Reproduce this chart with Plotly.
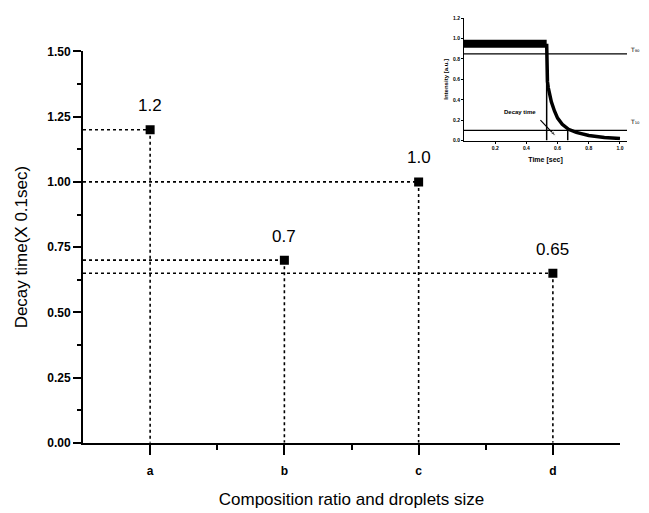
import plotly.graph_objects as go

# ---- main chart data ----
categories = ["a", "b", "c", "d"]
decay_times = [1.2, 0.7, 1.0, 0.65]
value_labels = ["1.2", "0.7", "1.0", "0.65"]
y_ticks = [0.0, 0.25, 0.5, 0.75, 1.0, 1.25, 1.5]

# ---- inset data ----
plateau_t = [0.0, 0.53]
plateau_i = [0.95, 0.95]
decay_t = [0.53, 0.53, 0.535, 0.54, 0.55, 0.56, 0.58, 0.60, 0.63, 0.67, 0.72, 0.80, 0.90, 1.0]
decay_i = [0.95, 0.62, 0.58, 0.52, 0.45, 0.38, 0.29, 0.22, 0.16, 0.11, 0.08, 0.05, 0.03, 0.02]
t90_level = 0.85
t10_level = 0.10
t_start = 0.53
t_end = 0.665
arrow_t = [0.49, 0.59]
arrow_i = [0.20, 0.04]
inset_x_ticks = [0.2, 0.4, 0.6, 0.8, 1.0]
inset_y_ticks = [0.0, 0.2, 0.4, 0.6, 0.8, 1.0, 1.2]

FONT = "Liberation Sans, Arial, sans-serif"
xpos = list(range(len(categories)))
x_left = -0.5

fig = go.Figure()

# dotted guide lines
for xi, v in zip(xpos, decay_times):
    fig.add_trace(go.Scatter(x=[x_left, xi], y=[v, v], mode="lines",
                             line=dict(color="black", width=1.6, dash="dot"),
                             hoverinfo="skip", showlegend=False))
    fig.add_trace(go.Scatter(x=[xi, xi], y=[v, 0], mode="lines",
                             line=dict(color="black", width=1.6, dash="dot"),
                             hoverinfo="skip", showlegend=False))

fig.add_trace(go.Scatter(x=xpos, y=decay_times, mode="markers",
                         marker=dict(symbol="square", size=9, color="black"),
                         showlegend=False))

for xi, v, t in zip(xpos, decay_times, value_labels):
    fig.add_annotation(x=xi, y=v, text=t, showarrow=False, yshift=24,
                       font=dict(family=FONT, size=17, color="black"))

# ---- inset ----
fig.add_trace(go.Scatter(x=plateau_t, y=plateau_i, mode="lines", xaxis="x2", yaxis="y2",
                         line=dict(color="black", width=8), showlegend=False))
fig.add_trace(go.Scatter(x=decay_t, y=decay_i, mode="lines", xaxis="x2", yaxis="y2",
                         line=dict(color="black", width=3.5), showlegend=False))
for lvl in [t90_level, t10_level]:
    fig.add_trace(go.Scatter(x=[0, 1.045], y=[lvl, lvl], mode="lines", xaxis="x2", yaxis="y2",
                             line=dict(color="black", width=1.2), showlegend=False))
fig.add_trace(go.Scatter(x=[t_start, t_start], y=[0, t90_level], mode="lines", xaxis="x2", yaxis="y2",
                         line=dict(color="black", width=1.5), showlegend=False))
fig.add_trace(go.Scatter(x=[t_end, t_end], y=[0, t10_level], mode="lines", xaxis="x2", yaxis="y2",
                         line=dict(color="black", width=1.5), showlegend=False))
fig.add_trace(go.Scatter(x=arrow_t, y=arrow_i, mode="lines+markers", xaxis="x2", yaxis="y2",
                         line=dict(color="black", width=1.2),
                         marker=dict(symbol="arrow", size=[0, 6], angleref="previous", color="black"),
                         showlegend=False))

fig.add_annotation(xref="x2 domain", yref="y2", x=1.005, y=t90_level + 0.04, text="T₉₀",
                   xanchor="left", showarrow=False,
                   font=dict(family="DejaVu Sans, sans-serif", size=6, color="black"))
fig.add_annotation(xref="x2 domain", yref="y2", x=1.005, y=t10_level + 0.09, text="T₁₀",
                   xanchor="left", showarrow=False,
                   font=dict(family="DejaVu Sans, sans-serif", size=6, color="black"))
fig.add_annotation(xref="x2", yref="y2", x=0.36, y=0.28, text="<b>Decay time</b>",
                   showarrow=False, font=dict(family=FONT, size=6, color="black"))

fig.update_layout(
    width=649, height=513,
    margin=dict(l=0, r=0, t=0, b=0),
    paper_bgcolor="white", plot_bgcolor="white",
    font=dict(family=FONT, color="black"),
    xaxis=dict(domain=[83 / 649, 620 / 649], range=[x_left, len(categories) - 0.5],
               tickmode="array", tickvals=xpos, ticktext=categories,
               showline=True, linecolor="black", linewidth=2, showgrid=False, zeroline=False,
               ticks="outside", ticklen=10, tickwidth=2, tickcolor="black",
               ticklabelstandoff=6,
               minor=dict(tickvals=[0.5, 1.5, 2.5], ticks="outside", ticklen=5,
                          tickwidth=2, tickcolor="black"),
               tickfont=dict(family=FONT, size=12, weight="bold"),
               title=dict(text="Composition ratio and droplets size",
                          font=dict(family=FONT, size=17), standoff=16)),
    yaxis=dict(domain=[65 / 513, 467.3 / 513], range=[0, 1.5],
               tickmode="array", tickvals=y_ticks, tickformat=".2f",
               showline=True, linecolor="black", linewidth=2, showgrid=False, zeroline=False,
               ticks="outside", ticklen=8, tickwidth=2, tickcolor="black",
               minor=dict(dtick=0.125, tick0=0, ticks="outside", ticklen=4,
                          tickwidth=2, tickcolor="black"),
               tickfont=dict(family=FONT, size=12, weight="bold"),
               title=dict(text="Decay time(X 0.1sec)",
                          font=dict(family=FONT, size=17), standoff=15)),
    xaxis2=dict(domain=[464 / 649, 627 / 649], range=[0, 1.045], anchor="y2",
                tickmode="array", tickvals=inset_x_ticks, tickformat=".1f",
                showline=True, linecolor="black", linewidth=1, showgrid=False, zeroline=False,
                ticks="outside", ticklen=2, tickcolor="black",
                tickfont=dict(family=FONT, size=5, weight="bold"),
                title=dict(text="Time [sec]", font=dict(family=FONT, size=7, weight="bold"),
                           standoff=7)),
    yaxis2=dict(domain=[375.7 / 513, 501.5 / 513], range=[0, 1.2], anchor="x2",
                tickmode="array", tickvals=inset_y_ticks, tickformat=".1f",
                showline=True, linecolor="black", linewidth=1, showgrid=False, zeroline=False,
                ticks="outside", ticklen=2, tickcolor="black",
                tickfont=dict(family=FONT, size=5, weight="bold"),
                title=dict(text="Intensity [a.u.]", font=dict(family=FONT, size=6, weight="bold"),
                           standoff=3)),
)

fig.write_html("out.html")
